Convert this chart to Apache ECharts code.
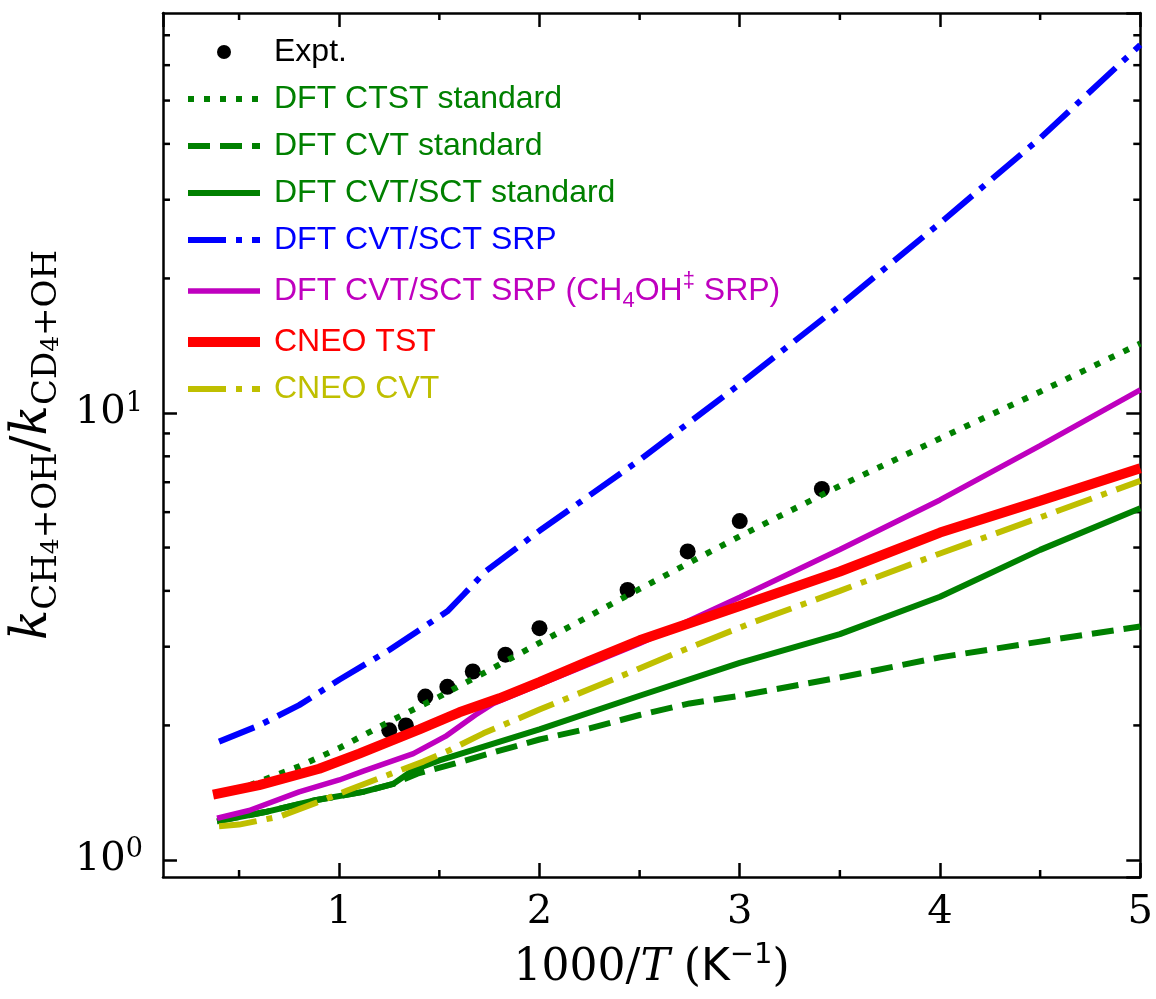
<!DOCTYPE html>
<html>
<head>
<meta charset="utf-8">
<script src="https://cdn.jsdelivr.net/npm/echarts/dist/echarts.min.js"></script>
<style>
  html, body { margin: 0; padding: 0; background: #fff; }
  #main { width: 1156px; height: 999px; }
</style>
</head>
<body>
<div id="main"></div>
<script>
// axis ranges
const xMin = 0.12
const xMax = 5
const yMin = 0.916
const yMax = 78.5

// minor tick positions (log axis 2..9 per decade, x at half units)
const xMinorTicks = [0.5, 1.5, 2.5, 3.5, 4.5]
const yMinorTicks = [2, 3, 4, 5, 6, 7, 8, 9, 20, 30, 40, 50, 60, 70]

// experiment
const exptX = [1.25, 1.333, 1.43, 1.54, 1.667, 1.83, 2.0, 2.44, 2.74, 3.0, 3.41]
const exptY = [1.95, 2.0, 2.32, 2.44, 2.64, 2.88, 3.3, 4.02, 4.9, 5.73, 6.76]

// DFT CTST standard
const ctstX = [0.4, 0.5, 0.8, 1.0, 1.25, 1.5, 1.75, 2.0, 2.5, 3.0, 3.5, 4.0, 4.5, 5.0]
const ctstY = [1.40, 1.44, 1.62, 1.78, 2.04, 2.32, 2.66, 3.06, 4.04, 5.3, 6.87, 8.77, 11.16, 14.3]

// DFT CVT standard
const cvtX = [0.39, 0.63, 0.88, 1.12, 1.27, 1.39, 1.58, 1.75, 2.0, 2.25, 2.5, 2.75, 3.0, 3.5, 4.0, 4.5, 5.0]
const cvtY = [1.22, 1.28, 1.36, 1.42, 1.48, 1.56, 1.645, 1.73, 1.86, 1.97, 2.11, 2.24, 2.33, 2.56, 2.84, 3.08, 3.33]

// DFT CVT/SCT standard
const sctX = [0.39, 0.63, 0.88, 1.12, 1.27, 1.37, 1.5, 1.75, 2.0, 2.5, 3.0, 3.5, 4.0, 4.5, 5.0]
const sctY = [1.22, 1.28, 1.36, 1.42, 1.48, 1.59, 1.67, 1.81, 1.96, 2.33, 2.76, 3.2, 3.88, 4.94, 6.12]

// DFT CVT/SCT SRP
const srpX = [0.4, 0.6, 0.8, 1.0, 1.25, 1.54, 1.62, 1.73, 2.0, 2.5, 3.0, 3.5, 4.0, 4.5, 5.0]
const srpY = [1.84, 2.0, 2.22, 2.53, 2.95, 3.6, 3.92, 4.42, 5.45, 7.85, 11.6, 17.4, 26.6, 41.2, 66.6]

// DFT CVT/SCT SRP (CH4OH SRP)
const srp2X = [0.39, 0.55, 0.8, 1.0, 1.12, 1.37, 1.53, 1.68, 1.77, 2.0, 2.5, 3.0, 3.5, 4.0, 4.5, 5.0]
const srp2Y = [1.24, 1.29, 1.42, 1.51, 1.58, 1.73, 1.89, 2.11, 2.24, 2.47, 3.05, 3.87, 4.95, 6.39, 8.45, 11.26]

// CNEO TST
const tstX = [0.37, 0.6, 0.9, 1.1, 1.4, 1.6, 1.8, 2.0, 2.25, 2.5, 3.0, 3.5, 4.0, 4.5, 5.0]
const tstY = [1.40, 1.47, 1.60, 1.73, 1.96, 2.14, 2.30, 2.50, 2.79, 3.10, 3.70, 4.42, 5.4, 6.36, 7.52]

// CNEO CVT
const cneoX = [0.4, 0.5, 0.7, 0.88, 1.04, 1.26, 1.42, 1.55, 1.72, 2.0, 2.4, 2.72, 3.05, 3.5, 4.0, 4.5, 5.0]
const cneoY = [1.19, 1.20, 1.25, 1.34, 1.43, 1.56, 1.66, 1.76, 1.92, 2.17, 2.57, 2.95, 3.38, 4.0, 4.85, 5.84, 7.05]

const names = [
  'Expt.',
  'DFT CTST standard',
  'DFT CVT standard',
  'DFT CVT/SCT standard',
  'DFT CVT/SCT SRP',
  'DFT CVT/SCT SRP (CH4OH SRP)',
  'CNEO TST',
  'CNEO CVT'
]
const colors = ['#000000', '#008000', '#008000', '#008000', '#0000ff', '#bf00bf', '#ff0000', '#bfbf00']
const widths = [0, 6, 6, 6, 6, 5.5, 10, 6]
const dashDot = [38, 10, 6, 10]
const dashes = [null, [6, 10], [22, 10], 'solid', dashDot, 'solid', 'solid', dashDot]

const zip = (xs, ys) => xs.map((x, i) => [x, ys[i]])

const serifFont = 'DejaVu Serif'
const sansFont = 'Liberation Sans'
const tickColor = '#000'

function lineSeries (i, xs, ys) {
  return {
    name: names[i],
    type: 'line',
    data: zip(xs, ys),
    symbol: 'none',
    smooth: false,
    lineStyle: { color: colors[i], width: widths[i], type: dashes[i], cap: 'butt' },
    itemStyle: { color: colors[i] },
    emphasis: { disabled: true }
  }
}

function legendItem (i) {
  const item = { name: names[i], textStyle: { color: colors[i] } }
  if (i > 0) {
    item.itemStyle = { opacity: 0 }
    item.lineStyle = { color: colors[i], width: widths[i], type: dashes[i], cap: 'butt' }
  }
  if (i === 5) {
    item.textStyle.lineHeight = 42
  }
  return item
}

const chartInstance = echarts.init(document.getElementById('main'))

const initOption = {
  animation: false,
  backgroundColor: '#fff',
  grid: { left: 157, right: 11, top: 13, bottom: 122 },
  legend: {
    orient: 'vertical',
    left: 183,
    top: 35,
    padding: 0,
    itemWidth: 72,
    itemHeight: 14,
    itemGap: 13,
    selectedMode: false,
    textStyle: {
      fontFamily: sansFont,
      fontSize: 32,
      lineHeight: 34,
      padding: [0, 0, 0, 9],
      rich: {
        sub: { fontFamily: sansFont, fontSize: 22, lineHeight: 16, verticalAlign: 'bottom' },
        sup: { fontFamily: sansFont, fontSize: 22, lineHeight: 18, verticalAlign: 'top' }
      }
    },
    formatter: name => {
      if (name === names[5]) return 'DFT CVT/SCT SRP (CH{sub|4}OH{sup|‡} SRP)'
      return name
    },
    data: names.map((n, i) => legendItem(i))
  },
  xAxis: [
    {
      type: 'value',
      min: xMin,
      max: xMax,
      position: 'bottom',
      name: '{n|1000/}{i|T}{n| (}{k|K}{e|−1}{n|)}',
      nameLocation: 'middle',
      nameGap: 64,
      nameTextStyle: {
        rich: {
          n: { fontFamily: serifFont, fontSize: 44, lineHeight: 56, color: '#000' },
          i: { fontFamily: serifFont, fontStyle: 'italic', fontSize: 44, lineHeight: 56, color: '#000' },
          k: { fontFamily: 'DejaVu Sans', fontSize: 44, lineHeight: 56, color: '#000' },
          e: { fontFamily: 'DejaVu Sans', fontSize: 29, lineHeight: 34, verticalAlign: 'top', color: '#000' }
        }
      },
      axisLine: { show: true, onZero: false, lineStyle: { color: '#000', width: 2.5 } },
      axisTick: { show: true, inside: true, length: 14, lineStyle: { color: tickColor, width: 2.5 } },
      axisLabel: {
        showMinLabel: false,
        showMaxLabel: true,
        margin: 16,
        fontFamily: serifFont,
        fontSize: 40,
        color: '#000',
        formatter: v => (Math.abs(v - Math.round(v)) < 1e-9 ? String(Math.round(v)) : '')
      },
      splitLine: { show: false }
    },
    {
      type: 'value',
      min: xMin,
      max: xMax,
      position: 'top',
      axisLine: { show: true, onZero: false, lineStyle: { color: '#000', width: 2.5 } },
      axisTick: { show: true, inside: true, length: 14, lineStyle: { color: tickColor, width: 2.5 } },
      axisLabel: { show: false },
      splitLine: { show: false }
    }
  ],
  yAxis: [
    {
      type: 'log',
      logBase: 10,
      min: yMin,
      max: yMax,
      position: 'left',
      name: '{k|k}{s|CH}{ss|4}{s|+OH}{n|/}{k|k}{s|CD}{ss|4}{s|+OH}',
      nameLocation: 'middle',
      nameGap: 80,
      nameRotate: 90,
      nameTextStyle: {
        rich: {
          k: { fontFamily: serifFont, fontStyle: 'italic', fontSize: 50, lineHeight: 62, color: '#000' },
          n: { fontFamily: serifFont, fontSize: 50, lineHeight: 62, color: '#000' },
          s: { fontFamily: serifFont, fontSize: 34, lineHeight: 30, verticalAlign: 'bottom', color: '#000' },
          ss: { fontFamily: serifFont, fontSize: 25, lineHeight: 18, verticalAlign: 'bottom', color: '#000' }
        }
      },
      axisLine: { show: true, onZero: false, lineStyle: { color: '#000', width: 2.5 } },
      axisTick: { show: true, inside: true, length: 14, lineStyle: { color: tickColor, width: 2.5 } },
      axisLabel: {
        showMinLabel: false,
        showMaxLabel: false,
        margin: 20,
        formatter: v => {
          const e = Math.log10(v)
          if (Math.abs(e - Math.round(e)) > 1e-6) return ''
          return '{b|10}{e|' + Math.round(e) + '}'
        },
        rich: {
          b: { fontFamily: serifFont, fontSize: 40, lineHeight: 46, color: '#000' },
          e: { fontFamily: serifFont, fontSize: 27, lineHeight: 26, verticalAlign: 'top', color: '#000' }
        }
      },
      splitLine: { show: false }
    },
    {
      type: 'log',
      logBase: 10,
      min: yMin,
      max: yMax,
      position: 'right',
      axisLine: { show: true, onZero: false, lineStyle: { color: '#000', width: 2.5 } },
      axisTick: { show: true, inside: true, length: 14, lineStyle: { color: tickColor, width: 2.5 } },
      axisLabel: { show: false },
      splitLine: { show: false }
    }
  ],
  series: [
    {
      name: names[0],
      type: 'scatter',
      data: zip(exptX, exptY),
      symbol: 'circle',
      symbolSize: 16,
      itemStyle: { color: '#000', opacity: 1 },
      emphasis: { disabled: true }
    },
    lineSeries(1, ctstX, ctstY),
    lineSeries(2, cvtX, cvtY),
    lineSeries(3, sctX, sctY),
    lineSeries(4, srpX, srpY),
    lineSeries(5, srp2X, srp2Y),
    lineSeries(6, tstX, tstY),
    lineSeries(7, cneoX, cneoY),
    {
      // minor log ticks on left and right frame
      type: 'custom',
      silent: true,
      clip: false,
      data: yMinorTicks.map(v => [xMin, v]),
      renderItem: (params, api) => {
        const y = api.coord([api.value(0), api.value(1)])[1]
        const cs = params.coordSys
        const st = { stroke: tickColor, lineWidth: 2.5 }
        return {
          type: 'group',
          children: [
            { type: 'line', shape: { x1: cs.x, y1: y, x2: cs.x + 7, y2: y }, style: st },
            { type: 'line', shape: { x1: cs.x + cs.width, y1: y, x2: cs.x + cs.width - 7, y2: y }, style: st }
          ]
        }
      }
    },
    {
      // minor x ticks on bottom and top frame
      type: 'custom',
      silent: true,
      clip: false,
      data: xMinorTicks.map(v => [v, 1]),
      renderItem: (params, api) => {
        const x = api.coord([api.value(0), api.value(1)])[0]
        const cs = params.coordSys
        const st = { stroke: tickColor, lineWidth: 2.5 }
        return {
          type: 'group',
          children: [
            { type: 'line', shape: { x1: x, y1: cs.y + cs.height, x2: x, y2: cs.y + cs.height - 7 }, style: st },
            { type: 'line', shape: { x1: x, y1: cs.y, x2: x, y2: cs.y + 7 }, style: st }
          ]
        }
      }
    }
  ]
}

chartInstance.setOption(initOption)
</script>
</body>
</html>
